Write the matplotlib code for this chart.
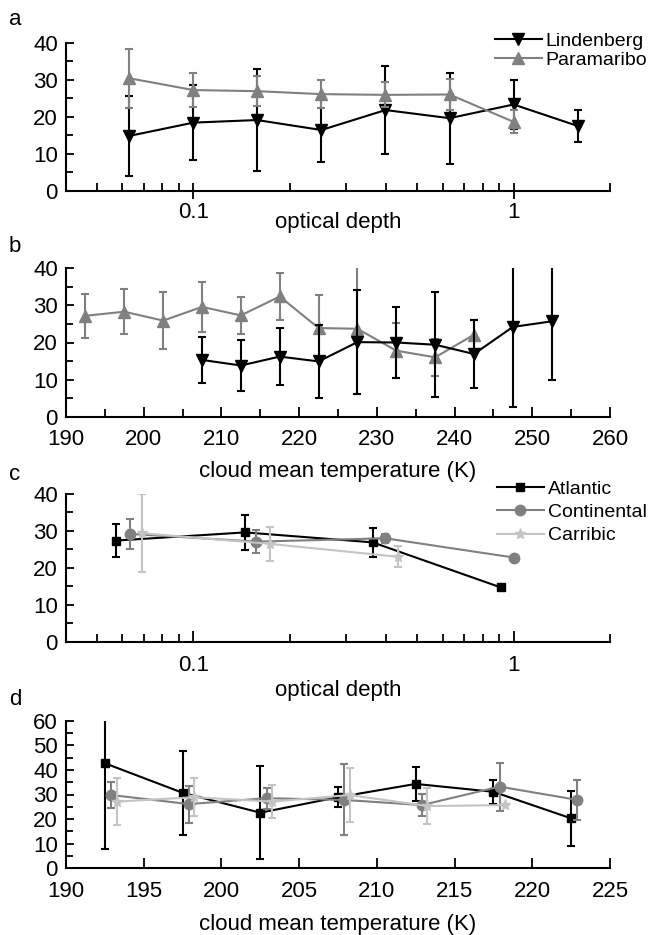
import matplotlib
matplotlib.use("Agg")
import matplotlib.pyplot as plt
from matplotlib.lines import Line2D
from matplotlib.ticker import FixedLocator, NullFormatter, FixedFormatter, MultipleLocator

plt.rcParams['font.family'] = ['Liberation Sans', 'DejaVu Sans']
plt.rcParams['font.size'] = 16

# ---- Panel a: optical depth ----
a_lind_x = [0.063, 0.1, 0.158, 0.251, 0.398, 0.631, 1.0, 1.585]
a_lind_y = [14.8, 18.4, 19.1, 16.4, 21.8, 19.6, 23.3, 17.5]
a_lind_e = [10.8, 10.2, 13.8, 8.6, 12.0, 12.3, 6.6, 4.4]
a_para_x = [0.063, 0.1, 0.158, 0.251, 0.398, 0.631, 1.0]
a_para_y = [30.4, 27.2, 26.9, 26.1, 25.9, 26.0, 18.6]
a_para_e = [8.0, 4.7, 4.1, 3.8, 3.4, 4.1, 3.1]

# ---- Panel b: cloud mean temperature ----
b_para_x = [192.5, 197.5, 202.5, 207.5, 212.5, 217.5, 222.5, 227.5, 232.5, 237.5, 242.5]
b_para_y = [27.2, 28.3, 25.9, 29.6, 27.3, 32.4, 23.9, 23.7, 17.8, 16.0, 22.1]
b_para_e = [6.0, 6.0, 7.7, 6.7, 5.0, 6.4, 8.8, 17.6, 7.5, 5.0, 4.0]
b_lind_x = [207.5, 212.5, 217.5, 222.5, 227.5, 232.5, 237.5, 242.5, 247.5, 252.5]
b_lind_y = [15.3, 13.8, 16.2, 14.9, 20.1, 20.0, 19.4, 16.9, 24.2, 25.7]
b_lind_e = [6.3, 7.0, 7.6, 9.9, 14.1, 9.5, 14.2, 9.2, 21.5, 15.9]

# ---- Panel c: optical depth ----
c_atl_x = [0.0575, 0.145, 0.363, 0.912]
c_atl_y = [27.4, 29.6, 26.9, 14.7]
c_atl_e = [4.4, 4.8, 3.9, 0.0]
c_con_x = [0.0633, 0.157, 0.398, 1.0]
c_con_y = [29.2, 27.1, 28.0, 22.8]
c_con_e = [4.0, 3.2, 1.2, 0.0]
c_car_x = [0.069, 0.173, 0.436]
c_car_y = [29.4, 26.5, 23.0]
c_car_e = [10.5, 4.6, 2.9]

# ---- Panel d: cloud mean temperature ----
d_atl_x = [192.5, 197.5, 202.5, 207.5, 212.5, 217.5, 222.5]
d_atl_y = [42.7, 30.7, 22.6, 28.9, 34.3, 31.1, 20.3]
d_atl_e = [35.0, 17.1, 18.8, 4.0, 7.0, 4.8, 11.1]
d_con_x = [192.9, 197.9, 202.9, 207.9, 212.9, 217.9, 222.9]
d_con_y = [29.8, 26.1, 28.5, 27.8, 25.7, 33.2, 27.8]
d_con_e = [5.3, 7.5, 4.3, 14.4, 4.4, 9.8, 8.0]
d_car_x = [193.25, 198.25, 203.25, 208.25, 213.25, 218.25]
d_car_y = [27.1, 28.9, 27.1, 29.8, 25.3, 25.7]
d_car_e = [9.5, 7.7, 6.8, 10.8, 7.3, 0.0]

BLACK = '#000000'
GRAY = '#808080'
LGRAY = '#c4c4c4'

fig = plt.figure(figsize=(6.5, 9.35), dpi=100)

L, W = 66 / 650, (610 - 66) / 650
PX = 0.72  # points per pixel at 100 dpi


def mk_axes(top_px, bot_px):
    ax = fig.add_axes([L, 1 - bot_px / 935, W, (bot_px - top_px) / 935])
    for s in ('top', 'right'):
        ax.spines[s].set_visible(False)
    for s in ('left', 'bottom'):
        ax.spines[s].set_linewidth(1.5)
    ax.tick_params(axis='y', which='major', direction='in', length=6, width=1.3,
                   labelsize=16, pad=8 * PX)
    ax.tick_params(axis='y', which='minor', direction='in', length=5, width=1.3)
    return ax


def series(ax, x, y, e, color, marker, ms, z):
    ax.errorbar(x, y, yerr=e, color=color, marker=marker, markersize=ms, lw=1.5,
                elinewidth=1.5, capsize=3, capthick=1.5, zorder=z,
                markeredgecolor=color, markerfacecolor=color)


def legend(ax, specs, x_px, top_px, spacing):
    handles = [Line2D([], [], color=c, marker=m, markersize=ms, lw=1.5) for c, m, ms, _ in specs]
    labels = [lab for _, _, _, lab in specs]
    ax.legend(handles, labels, loc='upper left', bbox_to_anchor=(x_px / 650, 1 - top_px / 935),
              bbox_transform=fig.transFigure, frameon=False, fontsize=14, borderpad=0,
              borderaxespad=0, handlelength=2.4, handletextpad=0.2, labelspacing=spacing)


def log_x(ax, major_dir, major_len, pad_px):
    ax.set_xscale('log')
    ax.set_xlim(0.04, 2.0)
    ax.xaxis.set_major_locator(FixedLocator([0.1, 1]))
    ax.xaxis.set_major_formatter(FixedFormatter(['0.1', '1']))
    ax.xaxis.set_minor_locator(FixedLocator([0.05, 0.06, 0.07, 0.08, 0.09, 0.2, 0.3, 0.4, 0.5,
                                             0.6, 0.7, 0.8, 0.9, 2.0]))
    ax.xaxis.set_minor_formatter(NullFormatter())
    ax.tick_params(axis='x', which='major', direction=major_dir, length=major_len, width=1.3,
                   labelsize=16, pad=pad_px * PX)
    ax.tick_params(axis='x', which='minor', direction='in', length=6, width=1.3)


# Panel a
ax = mk_axes(42.7, 190.7)
log_x(ax, 'inout', 11, 4)
ax.set_ylim(0, 40)
ax.yaxis.set_major_locator(MultipleLocator(10))
ax.yaxis.set_minor_locator(MultipleLocator(5))
series(ax, a_lind_x, a_lind_y, a_lind_e, BLACK, 'v', 9, 3)
series(ax, a_para_x, a_para_y, a_para_e, GRAY, '^', 9, 4)
ax.set_xlabel('optical depth', fontsize=16)
ax.xaxis.set_label_coords(0.5, -0.144)
legend(ax, [(BLACK, 'v', 9, 'Lindenberg'), (GRAY, '^', 9, 'Paramaribo')], 495, 32, 0.1)
fig.text(9 / 650, 1 - 25 / 935, 'a', fontsize=16, va='baseline')

# Panel b
ax = mk_axes(268.3, 416.7)
ax.set_xlim(190, 260)
ax.set_ylim(0, 40)
ax.xaxis.set_major_locator(MultipleLocator(10))
ax.xaxis.set_minor_locator(MultipleLocator(5))
ax.yaxis.set_major_locator(MultipleLocator(10))
ax.yaxis.set_minor_locator(MultipleLocator(5))
ax.tick_params(axis='x', which='major', direction='in', length=7, width=1.3, labelsize=16, pad=12 * PX)
ax.tick_params(axis='x', which='minor', direction='in', length=6, width=1.3)
series(ax, b_para_x, b_para_y, b_para_e, GRAY, '^', 9, 3)
series(ax, b_lind_x, b_lind_y, b_lind_e, BLACK, 'v', 9, 4)
ax.set_xlabel('cloud mean temperature (K)', fontsize=16)
ax.xaxis.set_label_coords(0.5, -0.298)
fig.text(9 / 650, 1 - 252 / 935, 'b', fontsize=16, va='baseline')

# Panel c
ax = mk_axes(494, 641.7)
log_x(ax, 'in', 8, 13)
ax.set_ylim(0, 40)
ax.yaxis.set_major_locator(MultipleLocator(10))
ax.yaxis.set_minor_locator(MultipleLocator(5))
series(ax, c_atl_x, c_atl_y, c_atl_e, BLACK, 's', 6, 3)
series(ax, c_con_x, c_con_y, c_con_e, GRAY, 'o', 7.5, 4)
series(ax, c_car_x, c_car_y, c_car_e, LGRAY, '*', 8, 5)
ax.set_xlabel('optical depth', fontsize=16)
ax.xaxis.set_label_coords(0.5, -0.259)
legend(ax, [(BLACK, 's', 6, 'Atlantic'), (GRAY, 'o', 7.5, 'Continental'),
            (LGRAY, '*', 8, 'Carribic')], 497, 480, 0.3)
fig.text(9 / 650, 1 - 480 / 935, 'c', fontsize=16, va='baseline')

# Panel d
ax = mk_axes(720.7, 868.3)
ax.set_xlim(190, 225)
ax.set_ylim(0, 60)
ax.xaxis.set_major_locator(MultipleLocator(5))
ax.yaxis.set_major_locator(MultipleLocator(10))
ax.yaxis.set_minor_locator(MultipleLocator(5))
ax.tick_params(axis='x', which='major', direction='in', length=7, width=1.3, labelsize=16, pad=13 * PX)
series(ax, d_atl_x, d_atl_y, d_atl_e, BLACK, 's', 6, 3)
series(ax, d_con_x, d_con_y, d_con_e, GRAY, 'o', 7.5, 4)
series(ax, d_car_x, d_car_y, d_car_e, LGRAY, '*', 8, 5)
ax.set_xlabel('cloud mean temperature (K)', fontsize=16)
ax.xaxis.set_label_coords(0.5, -0.31)
fig.text(9 / 650, 1 - 705 / 935, 'd', fontsize=16, va='baseline')

fig.savefig('out.png', dpi=100)
